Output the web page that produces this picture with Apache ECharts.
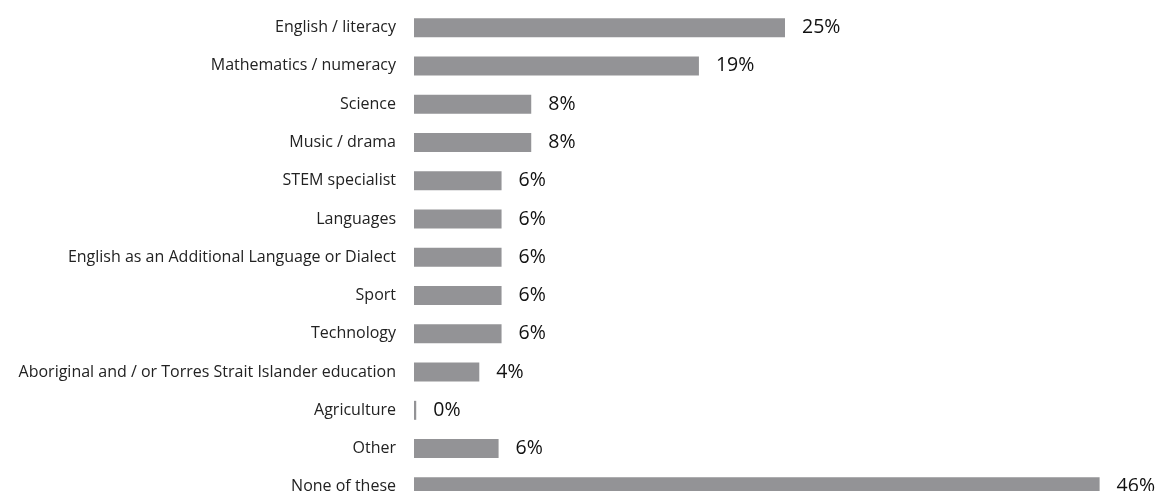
<!DOCTYPE html>
<html>
<head>
<meta charset="utf-8">
<script src="https://cdn.jsdelivr.net/npm/echarts@6/dist/echarts.min.js"></script>
<style>
    html, body { margin: 0; padding: 0; background: #fff; overflow: hidden; }
    #chart { width: 1159px; height: 506px; }
</style>
</head>
<body>
<div id="chart"></div>
<script>
// categories top to bottom
var categories = [
    'English / literacy',
    'Mathematics / numeracy',
    'Science',
    'Music / drama',
    'STEM specialist',
    'Languages',
    'English as an Additional Language or Dialect',
    'Sport',
    'Technology',
    'Aboriginal and / or Torres Strait Islander education',
    'Agriculture',
    'Other',
    'None of these'
];
// share of respondents, %
var values = [25, 19.2, 7.9, 7.9, 5.9, 5.9, 5.9, 5.9, 5.9, 4.4, 0.15, 5.7, 46.2];

var myChart = echarts.init(document.getElementById('chart'));
var option = {
    animation: false,
    grid: {
        left: 414,
        right: 3,
        top: 8.5,
        bottom: 0
    },
    xAxis: {
        type: 'value',
        min: 0,
        max: 50,
        show: false
    },
    yAxis: {
        type: 'category',
        inverse: true,
        data: categories,
        axisLine: { show: false },
        axisTick: { show: false },
        axisLabel: {
            margin: 18,
            fontFamily: 'Open Sans',
            fontSize: 16,
            color: '#222'
        }
    },
    series: [{
        type: 'bar',
        data: values,
        barWidth: 19,
        itemStyle: { color: '#939396' },
        label: {
            show: true,
            position: 'right',
            distance: 17,
            fontFamily: 'Open Sans',
            fontSize: 19.5,
            color: '#111',
            formatter: function (p) {
                return Math.round(p.value) + '%';
            }
        }
    }]
};
myChart.setOption(option);
</script>
</body>
</html>
